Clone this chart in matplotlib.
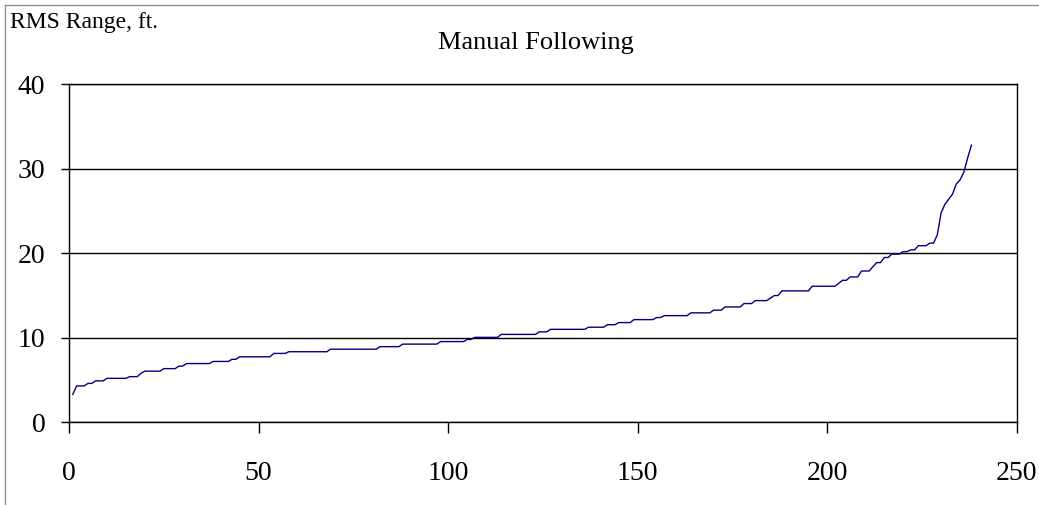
import numpy as np
import matplotlib.pyplot as plt
from matplotlib.lines import Line2D

levels = [3.3, 4.3, 4.6, 4.9, 5.2, 5.4, 5.8, 6.05, 6.35, 6.65, 6.95, 7.2, 7.45,
          7.75, 8.15, 8.35, 8.65, 8.95, 9.25, 9.55, 9.8, 10.05, 10.4, 10.7,
          11.0, 11.25, 11.55, 11.8, 12.15, 12.4, 12.62, 12.95, 13.27, 13.65,
          14.05, 14.4, 14.7, 15.0, 15.55, 16.1, 16.45, 16.8, 17.2, 17.9, 18.4,
          18.9, 19.5, 19.9, 20.2, 20.4, 20.9, 21.2]
counts = [1, 3, 2, 3, 6, 3, 1, 5, 4, 2, 7, 5, 2,
          9, 4, 11, 13, 6, 10, 7, 2, 7, 10, 3,
          10, 5, 3, 4, 6, 2, 7, 6, 3, 5,
          3, 4, 1, 2, 8, 7, 1, 2, 3, 3, 1,
          2, 2, 3, 2, 2, 3, 2]
# last points, where the curve turns up sharply
tail = [22.2, 24.8, 25.8, 26.4, 27.0, 28.2, 28.7, 29.6, 31.3, 32.8]

rms = np.concatenate([np.repeat(levels, counts), tail])
n = np.arange(1, len(rms) + 1)

plt.rcParams['font.family'] = ['Liberation Serif', 'DejaVu Serif']

fig = plt.figure(figsize=(10.39, 5.05), dpi=100)
ax = fig.add_axes([0.0664, 0.1638, 0.9124, 0.6693])

ax.plot(n, rms, color='#000080', lw=1.0)

ax.set_xlim(0, 250)
ax.set_ylim(0, 40)
ax.set_xticks([0, 50, 100, 150, 200, 250])
ax.set_yticks([0, 10, 20, 30, 40])
ax.grid(axis='y', color='black', lw=1.0)
ax.set_axisbelow(True)
for s in ax.spines.values():
    s.set_color('black')
    s.set_linewidth(1.0)
ax.tick_params(axis='x', direction='out', length=8, width=1, pad=20, labelsize=20)
ax.tick_params(axis='y', direction='out', length=6, width=1, pad=11, labelsize=20)

fig.text(0.010, 0.956, 'RMS Range, ft.', fontsize=17, va='center', ha='left')
fig.text(0.516, 0.915, 'Manual Following', fontsize=19, va='center', ha='center')

# grey frame of the chart area (left and top edges)
fig.add_artist(Line2D([5 / 1039, 5 / 1039], [0, 1 - 5 / 505], color='#909090', lw=1,
                      transform=fig.transFigure))
fig.add_artist(Line2D([5 / 1039, 1], [1 - 5 / 505, 1 - 5 / 505], color='#909090', lw=1,
                      transform=fig.transFigure))

fig.savefig('out.png', dpi=100)
